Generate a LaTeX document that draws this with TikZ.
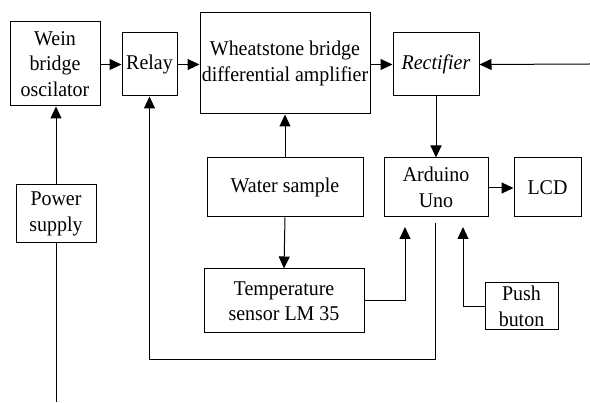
\documentclass[tikz,border=0pt]{standalone}
\usepackage{fontspec}
\setmainfont[FakeStretch=0.95]{Liberation Serif}
\usetikzlibrary{arrows.meta}
\begin{document}
\begin{tikzpicture}[x=1pt,y=-1pt,
  blk/.style={draw,line width=1pt,align=center,inner sep=1pt,
    font=\fontsize{21}{25.5}\selectfont},
  conn/.style={line width=1pt},
  arr/.style={conn,-{Triangle[length=12pt,width=11pt]}}]
\useasboundingbox (0,0) rectangle (590,403);
\node[blk,minimum width=90pt,minimum height=84pt] (wein) at (55,64) {Wein\\bridge\\oscilator};
\node[blk,minimum width=55pt,minimum height=63pt] (relay) at (149.5,64.5) {Relay};
\node[blk,minimum width=170pt,minimum height=101pt] (wheat) at (285,63.5) {Wheatstone bridge\\differential amplifier};
\node[blk,minimum width=86pt,minimum height=63pt] (rect) at (436,64.5) {\itshape Rectifier};
\node[blk,minimum width=104pt,minimum height=59pt] (ard) at (436,187.5) {Arduino\\Uno};
\node[blk,minimum width=67pt,minimum height=59pt] (lcd) at (547.5,187.5) {LCD};
\node[blk,minimum width=156pt,minimum height=59pt] (water) at (285,187.5) {Water sample};
\node[blk,minimum width=160pt,minimum height=64pt] (temp) at (284,301) {Temperature\\sensor LM 35};
\node[blk,minimum width=73pt,minimum height=47pt] (push) at (521.5,306.5) {Push\\buton};
\node[blk,minimum width=80pt,minimum height=58pt] (power) at (56,214) {Power\\supply};
\coordinate (rin) at (590,64);
\coordinate (ta) at (405,227);
\coordinate (pa) at (463,227);
\coordinate (ao) at (435,223);
\coordinate (pend) at (56,402);
\draw[arr] (wein.east |- relay.west) -- (relay.west);
\draw[arr] (relay.east) -- (relay.east -| wheat.west);
\draw[arr] (wheat.east |- rect.west) -- (rect.west);
\draw[arr] (rin) -- (rect.east);
\draw[arr] (rect.south) -- (ard.north);
\draw[arr] (ard.east |- 0,188) -- (lcd.west |- 0,188);
\draw[arr] (water.north) -- (wheat.south);
\draw[arr] (water.south) -- (temp.north);
\draw[arr] (temp.east) -| (ta);
\draw[arr] (push.west) -| (pa);
\draw[arr] (ao) -- (435,360) -| (relay.south);
\draw[arr] (power.north) -- (power.north |- wein.south);
\draw[conn] (power.south) -- (pend);
\end{tikzpicture}
\end{document}
